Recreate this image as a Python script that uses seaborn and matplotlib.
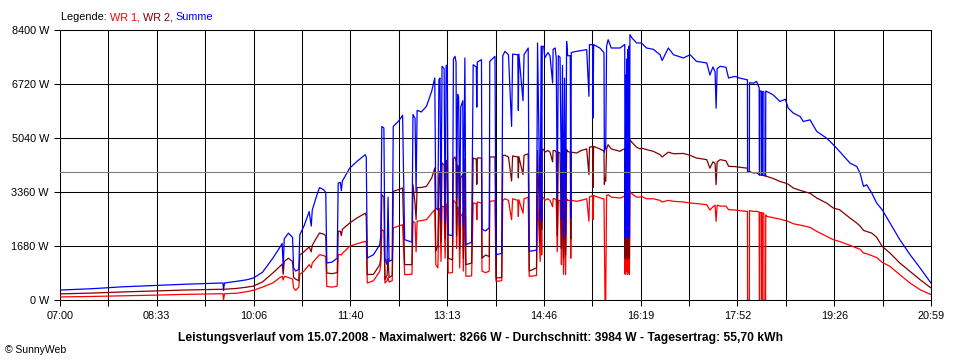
import numpy as np
import pandas as pd
import matplotlib
matplotlib.use("Agg")
import matplotlib.pyplot as plt
import seaborn as sns

zeit = [
    "07:00:00", "07:30:00", "08:00:00", "08:30:00", "09:00:00", "09:30:00", "09:37:00", "09:37:30", "09:38:30", "09:50:00",
    "10:00:00", "10:06:00", "10:15:00", "10:25:00", "10:32:00", "10:34:00", "10:35:00", "10:36:00", "10:40:00", "10:44:00",
    "10:45:00", "10:47:00", "10:50:00", "10:51:00", "10:55:00", "11:00:00", "11:02:00", "11:03:00", "11:07:00", "11:10:00",
    "11:14:00", "11:16:00", "11:17:00", "11:22:00", "11:27:00", "11:28:00", "11:30:00", "11:31:00", "11:32:00", "11:39:00",
    "11:46:00", "11:54:00", "11:55:00", "11:56:00", "12:02:00", "12:08:00", "12:09:00", "12:10:00", "12:12:00", "12:13:00",
    "12:15:00", "12:16:00", "12:17:00", "12:20:00", "12:21:00", "12:26:00", "12:30:00", "12:32:00", "12:39:00", "12:40:00",
    "12:42:00", "12:43:00", "12:44:00", "12:48:00", "12:53:00", "12:58:00", "13:01:00", "13:02:00", "13:04:00", "13:05:00",
    "13:06:00", "13:07:00", "13:08:00", "13:10:00", "13:11:00", "13:12:00", "13:13:00", "13:14:00", "13:18:00", "13:19:00",
    "13:20:30", "13:21:30", "13:22:00", "13:23:00", "13:24:00", "13:25:00", "13:26:00", "13:28:00", "13:28:30", "13:30:00",
    "13:31:00", "13:36:30", "13:38:00", "13:41:00", "13:41:30", "13:42:00", "13:46:00", "13:46:30", "13:50:00", "13:53:30",
    "13:54:00", "13:59:00", "14:00:00", "14:05:30", "14:06:30", "14:08:40", "14:12:00", "14:15:00", "14:16:00", "14:21:00",
    "14:21:30", "14:22:00", "14:26:00", "14:27:00", "14:31:00", "14:32:00", "14:39:00", "14:40:00", "14:42:30", "14:43:30",
    "14:44:00", "14:44:30", "14:46:00", "14:47:00", "14:50:00", "14:52:00", "14:54:30", "14:55:00", "14:57:00", "14:58:00",
    "14:59:00", "15:00:00", "15:01:40", "15:02:30", "15:03:00", "15:04:00", "15:05:00", "15:06:00", "15:07:00", "15:08:00",
    "15:09:00", "15:11:30", "15:12:00", "15:12:30", "15:17:40", "15:22:00", "15:27:20", "15:29:30", "15:30:00", "15:33:00",
    "15:33:30", "15:34:00", "15:40:00", "15:43:00", "15:44:00", "15:44:20", "15:45:00", "15:45:40", "15:46:30", "15:48:00",
    "15:51:00", "15:59:30", "16:02:00", "16:04:00", "16:04:20", "16:05:00", "16:05:30", "16:06:00", "16:06:30", "16:07:00",
    "16:07:30", "16:08:00", "16:08:30", "16:09:00", "16:11:00", "16:15:30", "16:19:00", "16:20:00", "16:25:00", "16:31:30",
    "16:38:00", "16:40:00", "16:46:00", "16:51:00", "17:00:30", "17:07:00", "17:13:00", "17:23:00", "17:26:00", "17:29:00",
    "17:31:00", "17:32:00", "17:33:00", "17:36:00", "17:41:30", "17:44:00", "17:50:00", "17:55:00", "18:01:30", "18:02:10",
    "18:02:20", "18:04:00", "18:04:10", "18:08:00", "18:11:00", "18:13:30", "18:13:40", "18:14:00", "18:14:10", "18:15:40",
    "18:15:50", "18:16:20", "18:16:30", "18:18:00", "18:18:10", "18:19:40", "18:19:50", "18:21:00", "18:27:00", "18:33:30",
    "18:38:40", "18:41:30", "18:46:30", "18:53:00", "18:56:00", "19:02:30", "19:09:00", "19:18:30", "19:25:00", "19:31:00",
    "19:41:00", "19:47:30", "19:50:40", "19:54:00", "19:57:00", "20:02:00", "20:06:40", "20:12:00", "20:19:30", "20:29:00",
    "20:38:50", "20:48:30", "20:59:00",
]
wr1 = [
    95, 110, 130, 150, 175, 190, 195, 0, 195, 210,
    260, 300, 400, 530, 700, 740, 620, 736, 700, 650,
    380, 300, 400, 800, 900, 1100, 1000, 1150, 1300, 1410,
    1380, 1350, 420, 400, 430, 1410, 1420, 1400, 1450, 1670,
    1750, 1825, 1800, 529, 600, 892, 1100, 2188, 2150, 529,
    600, 700, 560, 600, 2240, 2300, 2343, 788, 800, 2447,
    2400, 1500, 2450, 2470, 2500, 2700, 2810, 1100, 1000, 2800,
    2850, 1200, 2914, 2900, 1300, 2950, 3000, 840, 850, 3100,
    3050, 3000, 1600, 2900, 2800, 1000, 2600, 2700, 900, 3000,
    736, 750, 3020, 3000, 2500, 3050, 3018, 900, 850, 900,
    3070, 3090, 580, 600, 3100, 3150, 3100, 2500, 3150, 3100,
    2600, 3120, 2700, 3150, 3200, 736, 760, 3250, 1200, 3250,
    1400, 3200, 3173, 3100, 3150, 3100, 2900, 3150, 3150, 3100,
    1500, 3100, 3100, 2000, 1100, 3000, 800, 2800, 790, 3150,
    3100, 3100, 1300, 3100, 3070, 3100, 3150, 2450, 3200, 3250,
    2500, 3250, 3180, 3150, 3150, 2000, 0, 0, 3250, 3277,
    3200, 3173, 3200, 3250, 800, 3000, 900, 3100, 800, 3300,
    850, 3200, 790, 3380, 3300, 3200, 3200, 3225, 3150, 3150,
    3100, 3050, 3100, 3070, 3050, 3018, 3000, 2966, 2800, 2900,
    2950, 2447, 2950, 2920, 2920, 2810, 2800, 2780, 2758, 2760,
    0, 0, 2780, 2756, 2760, 2740, 0, 0, 2720, 2720,
    0, 0, 2710, 2700, 0, 0, 2650, 2600, 2560, 2518,
    2470, 2445, 2372, 2330, 2310, 2260, 2134, 1979, 1875, 1820,
    1700, 1616, 1580, 1461, 1440, 1380, 1320, 1171, 1046, 787,
    528, 321, 166,
]
wr2 = [
    190, 215, 250, 280, 310, 330, 335, 300, 335, 360,
    400, 430, 560, 840, 1050, 1120, 800, 1200, 1300, 1200,
    700, 650, 600, 1400, 1500, 1650, 1500, 1700, 1930, 2085,
    2050, 2000, 840, 820, 850, 2136, 2140, 2000, 2200, 2395,
    2550, 2700, 2600, 788, 800, 1100, 1300, 3277, 3200, 632,
    760, 1300, 700, 760, 3381, 3432, 3484, 1100, 1100, 3588,
    3000, 2500, 3500, 3500, 3536, 3795, 4106, 1514, 1700, 3800,
    4000, 1800, 4262, 4200, 1900, 4300, 4350, 1300, 1250, 4400,
    4450, 4300, 2000, 4200, 4100, 1600, 3800, 3900, 1300, 4400,
    1100, 1150, 4418, 4380, 3600, 4420, 4418, 1300, 1400, 1350,
    4450, 4450, 684, 700, 4500, 4500, 4450, 3700, 4480, 4450,
    3800, 4460, 3900, 4500, 4550, 900, 1000, 4650, 1800, 4650,
    2200, 4700, 4677, 4600, 4650, 4600, 4300, 4650, 4650, 4600,
    2000, 4600, 4580, 3000, 1600, 4400, 1300, 4200, 1400, 4680,
    4620, 4600, 1900, 4600, 4573, 4650, 4700, 3900, 4750, 4780,
    3500, 4780, 4700, 4650, 4650, 3600, 3800, 3700, 4700, 4832,
    4700, 4625, 4680, 4700, 1300, 4500, 1400, 4700, 1250, 4800,
    1300, 4800, 1300, 4988, 4900, 4750, 4700, 4728, 4680, 4625,
    4521, 4450, 4600, 4550, 4560, 4500, 4418, 4366, 4100, 4300,
    4250, 3588, 4300, 4366, 4330, 4159, 4150, 4130, 4106, 4100,
    3990, 3990, 4000, 3950, 3960, 3900, 3890, 3890, 3890, 3880,
    3880, 3880, 3880, 3870, 3870, 3860, 3860, 3843, 3780, 3688,
    3640, 3600, 3481, 3410, 3380, 3320, 3170, 3015, 2859, 2807,
    2549, 2393, 2300, 2165, 2134, 2080, 1950, 1668, 1461, 1150,
    891, 632, 373,
]
summe = [
    310, 350, 410, 450, 490, 520, 530, 320, 530, 580,
    630, 680, 860, 1300, 1650, 1760, 1000, 1900, 2080, 1950,
    1000, 900, 950, 2030, 2300, 2750, 2300, 2800, 3220, 3500,
    3430, 3350, 1150, 1180, 1300, 3640, 3660, 3400, 3700, 4100,
    4310, 4520, 4450, 1307, 1410, 1720, 2000, 5400, 5350, 1300,
    1100, 3200, 1200, 1250, 5400, 5560, 5745, 1877, 1800, 5770,
    5650, 3360, 5900, 5850, 6025, 6490, 6906, 2860, 2800, 6850,
    6906, 2500, 7270, 7200, 2400, 7300, 7300, 2030, 2000, 7500,
    7580, 7400, 3170, 6400, 6300, 2400, 6000, 6200, 2300, 7530,
    1720, 1800, 7320, 7250, 6000, 7400, 7477, 2200, 2150, 2250,
    7425, 7580, 1410, 1450, 7600, 7736, 7630, 5400, 7650, 7630,
    5900, 7650, 6200, 7630, 7840, 1514, 1550, 7996, 2500, 7900,
    2447, 7890, 7890, 7530, 7700, 7600, 6750, 7800, 7840, 7530,
    3170, 7600, 7550, 5000, 2500, 7300, 1950, 6900, 2000, 8047,
    7600, 7600, 2550, 7700, 7736, 7760, 7788, 6336, 7944, 7944,
    5660, 7944, 7840, 7736, 7700, 4600, 4800, 4700, 7900, 8100,
    7840, 7840, 7900, 7950, 1930, 7000, 2000, 7500, 1950, 7800,
    2000, 7900, 1930, 8255, 8150, 7996, 7996, 7996, 7840, 7800,
    7630, 7450, 7840, 7630, 7530, 7632, 7425, 7374, 7000, 7250,
    7100, 5967, 7200, 7270, 7240, 6906, 6958, 6900, 6854, 6850,
    3990, 3990, 6760, 6745, 6800, 6600, 3890, 3890, 6500, 6500,
    3880, 3880, 6480, 6480, 3870, 3860, 6500, 6485, 6382, 6175,
    6247, 5967, 5812, 5708, 5553, 5605, 5242, 5035, 4828, 4620,
    4258, 4154, 3947, 3533, 3585, 3325, 3015, 2807, 2393, 1875,
    1409, 995, 528,
]

durchschnitt = 3984
y_ticks = [0, 1680, 3360, 5040, 6720, 8400]
y_labels = ["0 W", "1680 W", "3360 W", "5040 W", "6720 W", "8400 W"]
x_labels = ["07:00", "08:33", "10:06", "11:40", "13:13", "14:46", "16:19", "17:52", "19:26", "20:59"]
titel = ("Leistungsverlauf vom 15.07.2008 - Maximalwert: 8266 W - "
         "Durchschnitt: 3984 W - Tagesertrag: 55,70 kWh")
farben = {"WR 1": "#ff0000", "WR 2": "#800000", "Summe": "#0000ff"}

sns.set_theme(style="white")
plt.rcParams["font.family"] = ["Liberation Sans", "DejaVu Sans"]
plt.rcParams["axes.unicode_minus"] = False

minuten = pd.to_timedelta(pd.Series(zeit)).dt.total_seconds() / 60 - 420
df = pd.DataFrame({"min": minuten, "WR 1": wr1, "WR 2": wr2, "Summe": summe})
df = df.melt(id_vars="min", var_name="Serie", value_name="W")

fig = plt.figure(figsize=(9.6, 3.6), dpi=100)
ax = fig.add_axes([60 / 960, 60 / 360, 871 / 960, 270 / 360])

sns.lineplot(data=df, x="min", y="W", hue="Serie", palette=farben,
             hue_order=["WR 1", "WR 2", "Summe"], estimator=None, sort=False,
             legend=False, linewidth=0.9, ax=ax, zorder=3)
ax.axhline(durchschnitt, color="#808080", lw=0.8, zorder=5)

# Achsen / Gitter
ende = 839
ax.set_xlim(0, ende)
ax.set_ylim(0, 8400)
ax.set_xticks(np.linspace(0, ende, len(x_labels)))
ax.set_xticklabels(x_labels)
ax.set_xticks(np.linspace(0, ende, 2 * len(x_labels) - 1), minor=True)
ax.set_yticks(y_ticks)
ax.set_yticklabels(y_labels)
ax.set_xlabel("")
ax.set_ylabel("")
ax.grid(True, which="both", axis="x", color="black", lw=0.75, zorder=1)
ax.grid(True, which="major", axis="y", color="black", lw=0.75, zorder=1)
ax.set_axisbelow(True)
ax.tick_params(axis="both", which="both", direction="out", length=4, width=0.75,
               color="black", labelsize=7.8, labelcolor="black")
ax.tick_params(axis="x", which="major", pad=4)
ax.tick_params(axis="y", pad=4, left=True)
ax.tick_params(axis="x", which="both", bottom=True)
for s in ax.spines.values():
    s.set_color("black")
    s.set_linewidth(0.75)

# Legende oben links, mehrfarbig
t = fig.text(61 / 960, 1 - 20 / 360, "Legende: ", fontsize=7.8, color="black", va="baseline")
for teil, farbe in [("WR 1, ", farben["WR 1"]), ("WR 2, ", farben["WR 2"]), ("Summe", farben["Summe"])]:
    t = ax.annotate(teil, xy=(1, 0), xycoords=t, va="bottom", ha="left",
                    fontsize=7.8, color=farbe, annotation_clip=False)

fig.text(480 / 960, 1 - 341 / 360, titel, ha="center", va="baseline",
         fontsize=8.7, fontweight="bold", color="black")
fig.text(5 / 960, 1 - 353 / 360, "\u00a9 SunnyWeb", ha="left", va="baseline",
         fontsize=7.5, color="black")

fig.savefig("out.png", dpi=100)
